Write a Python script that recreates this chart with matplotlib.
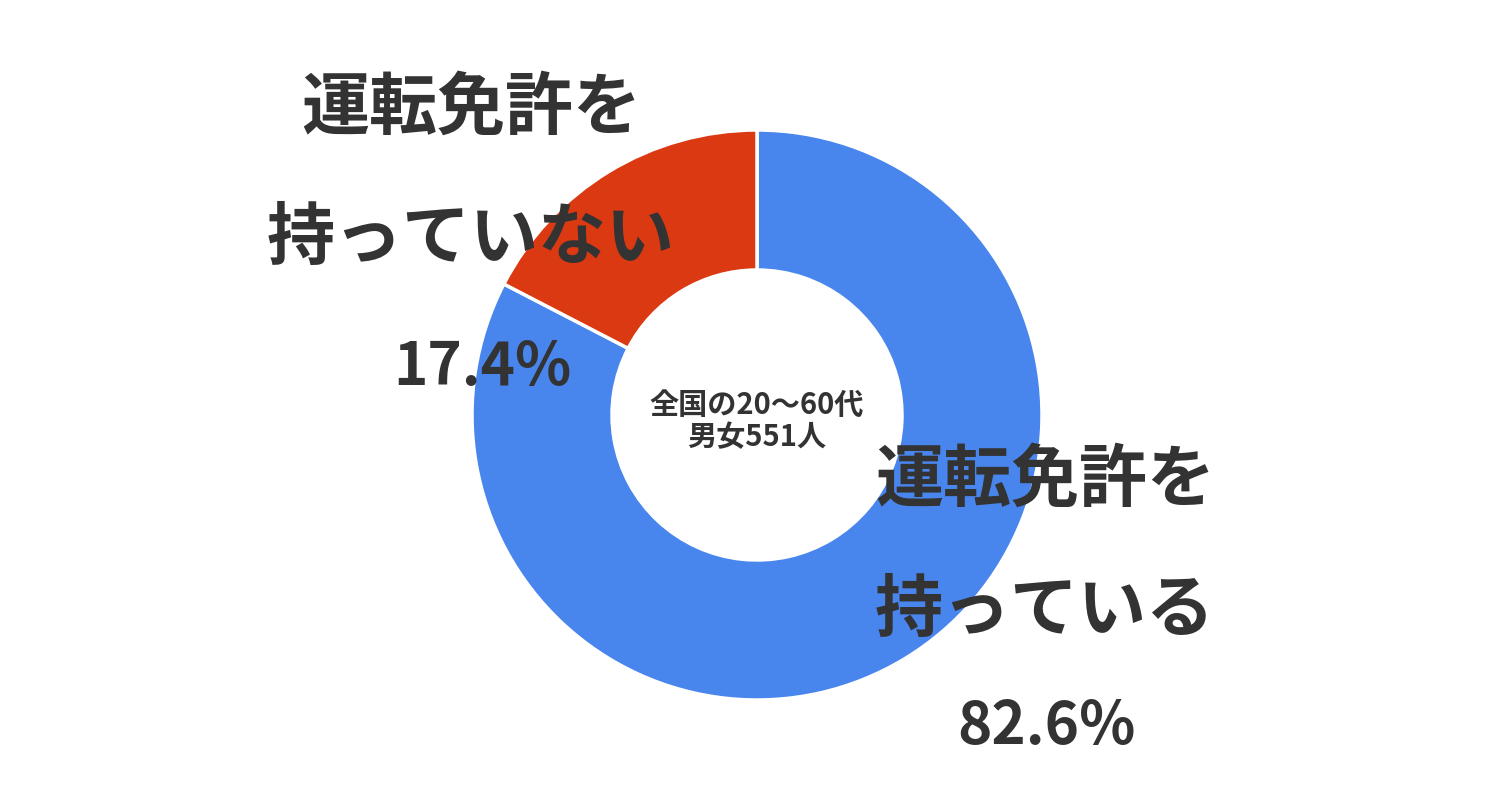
import matplotlib.pyplot as plt

plt.rcParams['font.family'] = ['Noto Sans CJK JP', 'DejaVu Sans']

labels = ['運転免許を\n\n持っている', '運転免許を\n\n持っていない']
values = [82.6, 17.4]
pct_labels = ['82.6%', '17.4%']
colors = ['#4885ED', '#DB3912']
center_text = '全国の20〜60代\n男女551人'

fig = plt.figure(figsize=(15, 7.95), dpi=100)
ax = fig.add_axes([0, 0, 1, 1])

cx, cy, r = 757, 795 - 415, 285
ax.pie(values, colors=colors, startangle=90, counterclock=False,
       center=(cx, cy), radius=r, frame=True,
       wedgeprops=dict(width=140, edgecolor='white', linewidth=2.5))
ax.set_xlim(0, 1500)
ax.set_ylim(0, 795)
ax.set_aspect('equal')
ax.axis('off')

txt = dict(color='#333333', fontweight='bold', ha='center', va='center',
           fontsize=49, linespacing=0.93, zorder=5)
pct = dict(color='#333333', fontweight='bold', ha='center', va='center',
           fontsize=42, zorder=5)
# label positions in pixel coords (y from top)
ax.text(1045, 795 - 546, labels[0], **txt)
ax.text(1046, 795 - 727, pct_labels[0], **pct)
ax.text(471, 795 - 174, labels[1], **txt)
ax.text(482, 795 - 368, pct_labels[1], **pct)

ax.text(cx, 795 - 421, center_text, color='#333333', fontsize=21,
        ha='center', va='center', fontweight='bold', linespacing=1.1)

fig.savefig('out.png', dpi=100)
